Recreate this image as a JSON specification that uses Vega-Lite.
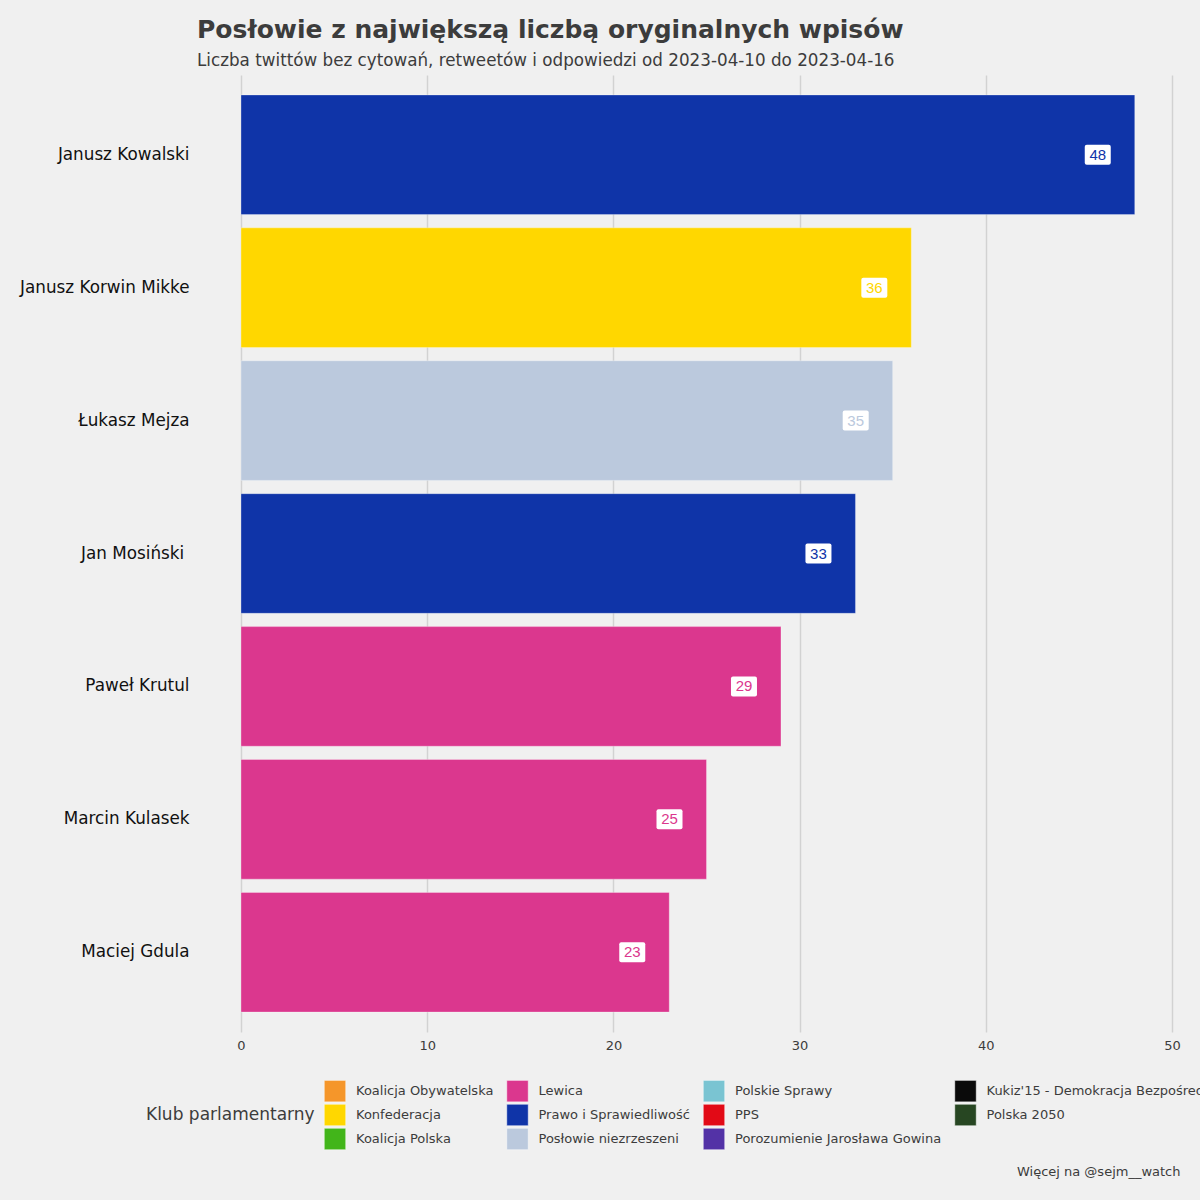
{
  "$schema": "https://vega.github.io/schema/vega-lite/v6.json",
  "autosize": "none",
  "width": 931,
  "height": 957,
  "padding": {"left": 241, "top": 75, "right": 28, "bottom": 168},
  "background": "#F0F0F0",
  "title": {
    "text": "Posłowie z największą liczbą oryginalnych wpisów",
    "subtitle": "Liczba twittów bez cytowań, retweetów i odpowiedzi od 2023-04-10 do 2023-04-16",
    "anchor": "start",
    "frame": "group",
    "dx": -44,
    "offset": 5.5,
    "font": "DejaVu Sans",
    "fontSize": 25,
    "fontWeight": "bold",
    "color": "#3C3C3C",
    "subtitleFont": "DejaVu Sans",
    "subtitleFontSize": 16.75,
    "subtitleColor": "#3C3C3C",
    "subtitlePadding": 9.5
  },
  "data": {
    "values": [
      {"name": "Janusz Kowalski", "n": 48, "club": "Prawo i Sprawiedliwość"},
      {"name": "Janusz Korwin Mikke", "n": 36, "club": "Konfederacja"},
      {"name": "Łukasz Mejza", "n": 35, "club": "Posłowie niezrzeszeni"},
      {"name": "Jan Mosiński\u00a0\u200b", "n": 33, "club": "Prawo i Sprawiedliwość"},
      {"name": "Paweł Krutul", "n": 29, "club": "Lewica"},
      {"name": "Marcin Kulasek", "n": 25, "club": "Lewica"},
      {"name": "Maciej Gdula", "n": 23, "club": "Lewica"}
    ]
  },
  "encoding": {
    "y": {
      "field": "name",
      "type": "nominal",
      "sort": null,
      "scale": {"paddingInner": 0.1, "paddingOuter": 0.15},
      "axis": {
        "title": null,
        "ticks": false,
        "domain": false,
        "labelFont": "DejaVu Sans",
        "labelFontSize": 16.8,
        "labelColor": "#111111",
        "labelPadding": 52
      }
    },
    "x": {
      "field": "n",
      "type": "quantitative",
      "scale": {"domain": [0, 50], "nice": false},
      "axis": {
        "values": [0, 10, 20, 30, 40, 50],
        "grid": true,
        "gridColor": "#D2D2D2",
        "gridWidth": 1.5,
        "ticks": false,
        "domain": false,
        "labelFlush": false,
        "labelFont": "DejaVu Sans",
        "labelFontSize": 13,
        "labelColor": "#3C3C3C",
        "labelPadding": 7,
        "title": "Więcej na @sejm__watch",
        "titleFont": "DejaVu Sans",
        "titleFontSize": 13,
        "titleFontWeight": "normal",
        "titleColor": "#3C3C3C",
        "titleX": 939,
        "titleY": 139,
        "titleAlign": "right",
        "titleBaseline": "middle",
        "titleAngle": 0
      }
    }
  },
  "layer": [
    {
      "mark": {"type": "bar", "stroke": "#FFFFFF", "strokeOpacity": 0.5, "strokeWidth": 0.6},
      "encoding": {
        "color": {
          "field": "club",
          "type": "nominal",
          "title": "Klub parlamentarny",
          "scale": {
            "domain": ["Koalicja Obywatelska", "Lewica", "Polskie Sprawy", "Kukiz'15 - Demokracja Bezpośrednia", "Konfederacja", "Prawo i Sprawiedliwość", "PPS", "Polska 2050", "Koalicja Polska", "Posłowie niezrzeszeni", "Porozumienie Jarosława Gowina"],
            "range": ["#F5962A", "#DB378E", "#7AC4D2", "#0A0A0A", "#FFD700", "#0F34A8", "#E20A16", "#274622", "#42B51A", "#BBC9DD", "#5332A6"]
          },
          "legend": {
            "orient": "none",
            "legendX": -95,
            "legendY": 1005,
            "direction": "horizontal",
            "columns": 4,
            "titleOrient": "left",
            "titleAnchor": "middle",
            "titleBaseline": "middle",
            "titlePadding": 9,
            "symbolType": "square",
            "symbolSize": 462,
            "symbolStrokeColor": "#FFFFFF",
            "symbolStrokeWidth": 0.5,
            "symbolOpacity": 1,
            "columnPadding": 11.5,
            "rowPadding": 0,
            "labelOffset": 10,
            "labelLimit": 400,
            "padding": 0
          }
        }
      }
    },
    {
      "mark": {
        "type": "point",
        "shape": "M-1.1,-1H1.1Q1.3,-1 1.3,-0.8V0.8Q1.3,1 1.1,1H-1.1Q-1.3,1 -1.3,0.8V-0.8Q-1.3,-1 -1.1,-1Z",
        "size": 400,
        "filled": true,
        "color": "#FFFFFF",
        "opacity": 1,
        "xOffset": -37
      },
      "encoding": {}
    },
    {
      "mark": {
        "type": "text",
        "font": "Liberation Sans",
        "fontSize": 15,
        "align": "center",
        "baseline": "middle",
        "xOffset": -37
      },
      "encoding": {
        "text": {"field": "n", "type": "quantitative"},
        "color": {"field": "club", "type": "nominal"}
      }
    }
  ],
  "config": {
    "view": {"stroke": null},
    "legend": {
      "titleFont": "DejaVu Sans",
      "titleFontSize": 17,
      "titleFontWeight": "normal",
      "titleColor": "#3C3C3C",
      "labelFont": "DejaVu Sans",
      "labelFontSize": 13,
      "labelColor": "#3C3C3C"
    }
  }
}
